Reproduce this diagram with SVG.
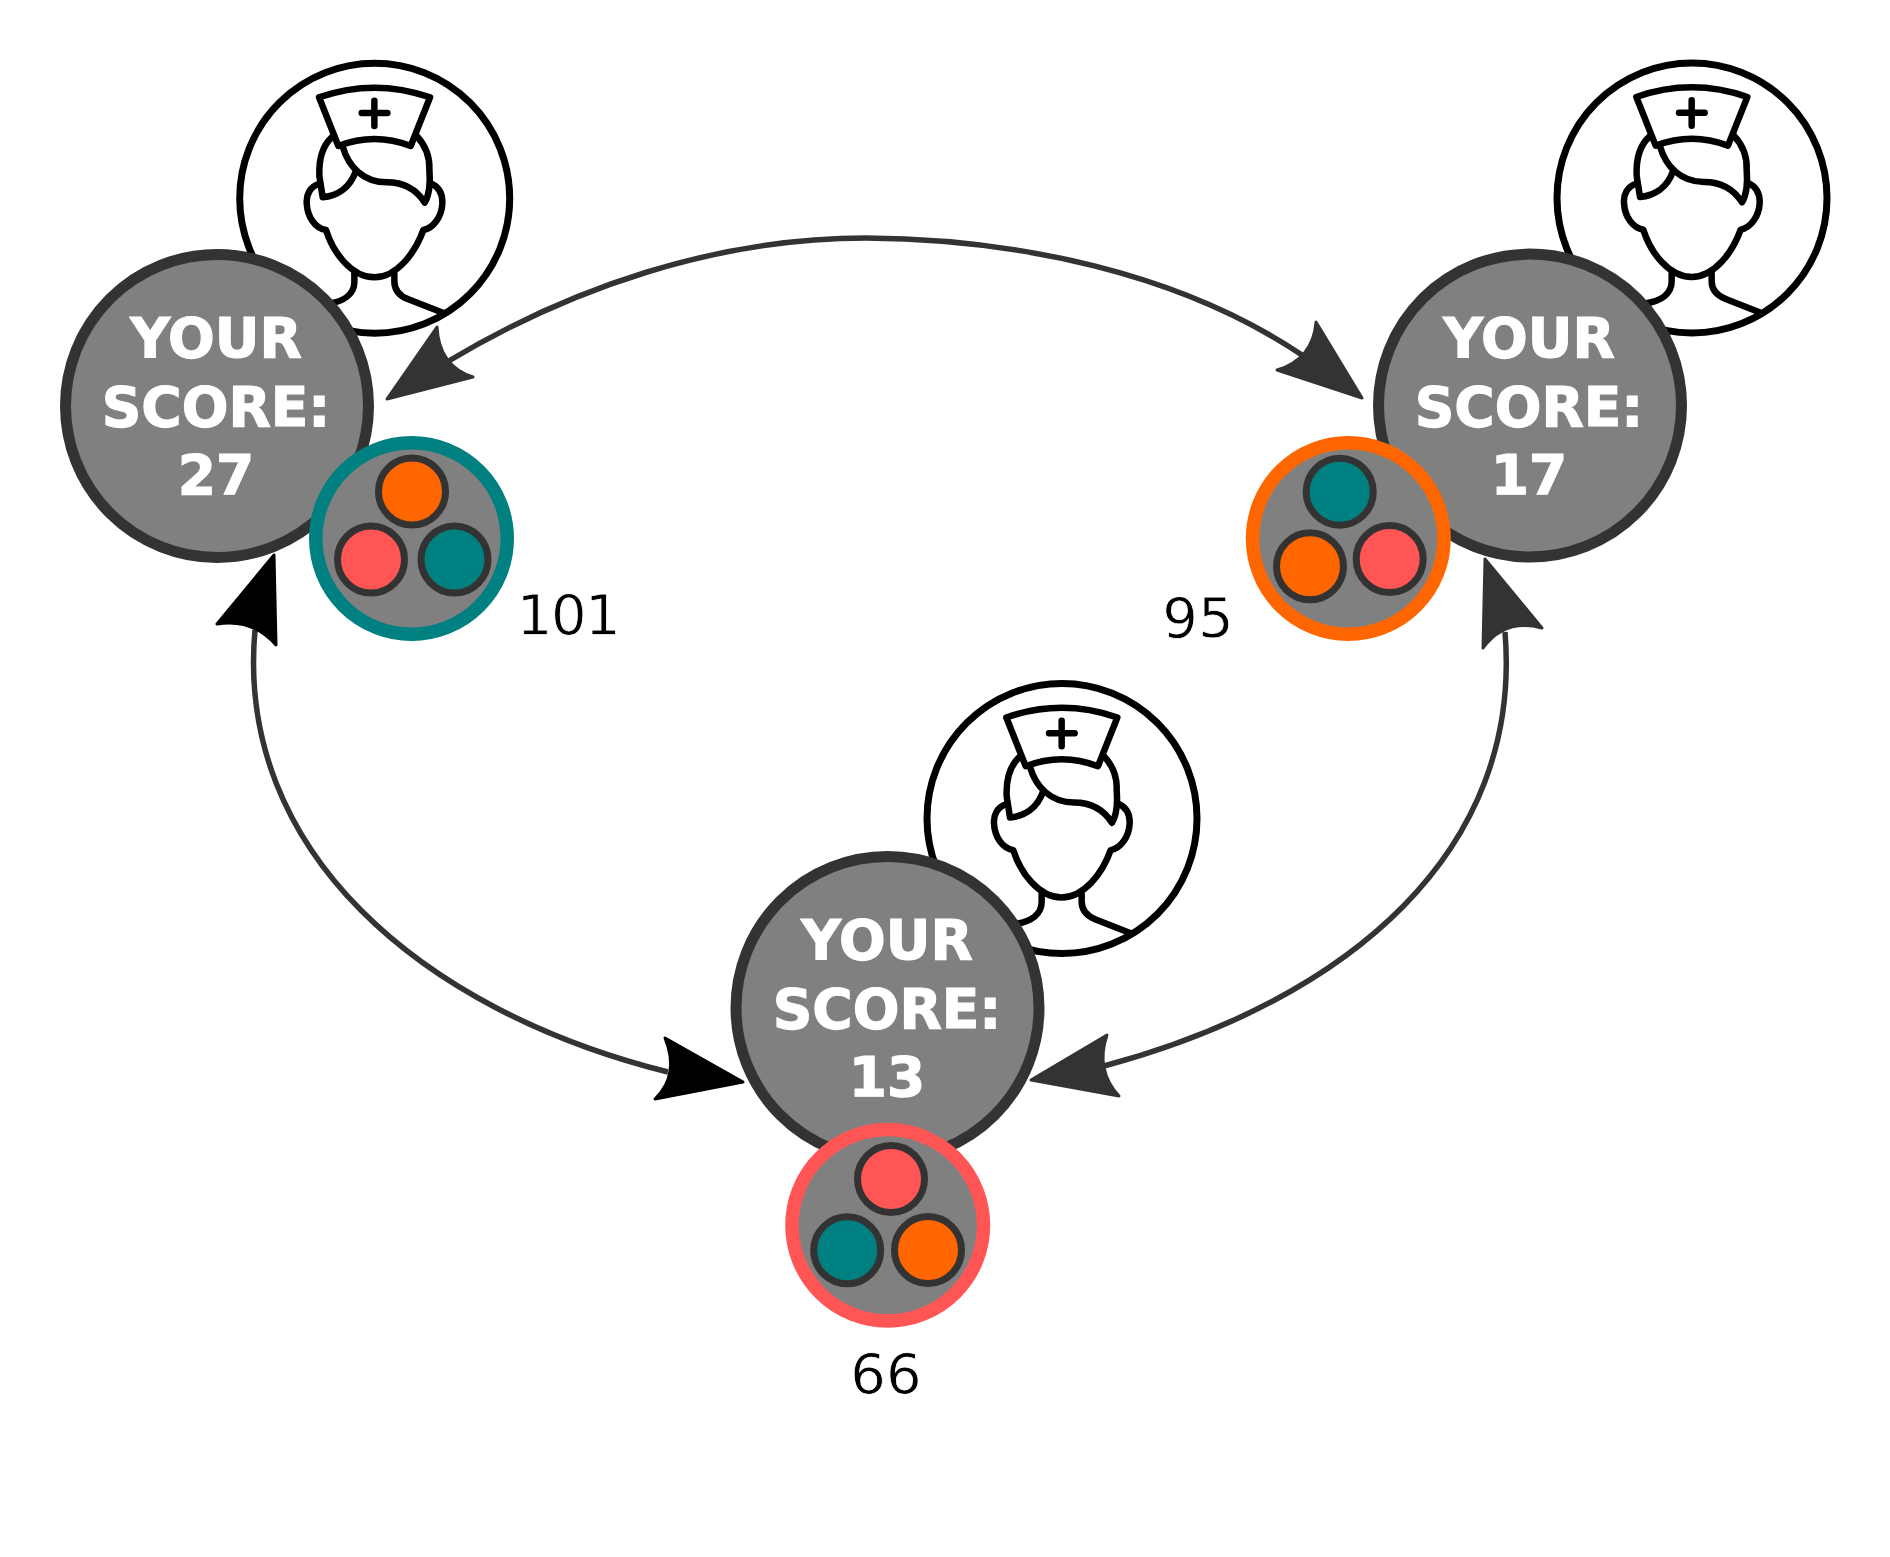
<svg xmlns="http://www.w3.org/2000/svg" width="1890" height="1557" viewBox="0 0 1890 1557">
<style>
.bg{fill:#fff}
.main{fill:#808080;stroke:#333;stroke-width:11}
.mini{fill:#808080;stroke-width:13.5}
.dot{stroke:#333;stroke-width:7}
.teal{fill:#008080}.orange{fill:#f60}.red{fill:#f55}
.score{font-family:"DejaVu Sans",sans-serif;font-weight:700;font-size:55px;fill:#fff;stroke:#fff;stroke-width:1.2;text-anchor:middle}
.num{font-family:"DejaVu Sans",sans-serif;font-size:56px;fill:#000;stroke:#fff;stroke-width:.8;text-anchor:middle}
.edge{fill:none;stroke:#333;stroke-width:5.5}
.hd{fill:#333;stroke:#333;stroke-width:3;stroke-linejoin:round}
.hb{fill:#000;stroke:#000;stroke-width:3;stroke-linejoin:round}
.ic{fill:none;stroke:#000;stroke-width:19.5;stroke-linecap:round;stroke-linejoin:round}
</style>
<defs>
<g id="nurse">
<circle r="135" fill="#fff" stroke="#000" stroke-width="7"/>
<g transform="scale(0.33333) translate(-464,-445)" class="ic">
<path d="M297,142 Q463,84 630,142 L572,288 Q463,246 355,288 Z"/>
<path d="M463,152 V228 M425,189 H502"/>
<path d="M335,262 C305,290 296,330 298,378 L308,442 C350,438 390,415 408,362"/>
<path d="M368,290 C385,350 430,397 500,397 C550,397 590,420 614,458 C625,440 632,410 628,360 C630,320 615,285 590,258"/>
<path d="M297,402 C270,410 258,435 260,460 C262,500 285,535 318,540 C340,610 395,682 463,682 C530,682 585,610 610,540 C640,535 665,500 667,460 C668,430 655,410 632,400"/>
<path d="M403,665 V695 C403,730 375,755 320,762"/>
<path d="M523,672 V695 C523,720 540,738 565,748 L672,790"/>
</g>
</g>
</defs>
<rect class="bg" width="1890" height="1557"/>
<g id="connectors">
<path class="edge" d="M447,362 C570,288 716,238 866,238 C1018,239 1180,273 1302,355"/>
<path class="edge" d="M255,630 C235,850 420,1010 668,1072"/>
<path class="edge" d="M1505,632 C1523,850 1350,1000 1104,1066"/>
<path class="hd" d="M387,399 L437,327 Q439,366 473,377 Z"/>
<path class="hd" d="M1362,398 L1316,322 Q1313,359 1277,370 Z"/>
<path class="hb" d="M274,555 L217,624 Q252,618 276,645 Z"/>
<path class="hb" d="M743,1082 L665,1038 Q680,1075 655,1099 Z"/>
<path class="hd" d="M1485,559 L1542,628 Q1505,618 1483,648 Z"/>
<path class="hd" d="M1031,1080 L1107,1035 Q1095,1070 1119,1096 Z"/>
</g>
<g id="node-left">
<use href="#nurse" x="374.7" y="198.3"/>
<circle class="main" cx="217" cy="406" r="151.5"/>
<text class="score" x="216" y="356.5">YOUR</text>
<text class="score" x="216" y="425.5">SCORE:</text>
<text class="score" x="216" y="493.5">27</text>
<circle class="mini" cx="411.5" cy="538.5" r="95.75" stroke="#008080"/>
<circle class="dot orange" cx="412" cy="491.5" r="33.5"/>
<circle class="dot red" cx="371" cy="559.5" r="33.5"/>
<circle class="dot teal" cx="454.5" cy="559.5" r="33.5"/>
<text class="num" x="568" y="634" letter-spacing="-1.5">101</text>
</g>
<g id="node-right">
<use href="#nurse" x="1692" y="198"/>
<circle class="main" cx="1530" cy="405.6" r="151.5"/>
<text class="score" x="1529" y="356.5">YOUR</text>
<text class="score" x="1529" y="425.5">SCORE:</text>
<text class="score" x="1529" y="493.5">17</text>
<circle class="mini" cx="1348.3" cy="538.5" r="95.75" stroke="#f60"/>
<circle class="dot teal" cx="1339.7" cy="491.7" r="33.5"/>
<circle class="dot orange" cx="1310" cy="566.3" r="33.5"/>
<circle class="dot red" cx="1389.7" cy="559" r="33.5"/>
<text class="num" x="1198" y="636.5">95</text>
</g>
<g id="node-bottom">
<use href="#nurse" x="1062" y="818.5"/>
<circle class="main" cx="887.5" cy="1008" r="151.5"/>
<text class="score" x="887" y="958.5">YOUR</text>
<text class="score" x="887" y="1027.5">SCORE:</text>
<text class="score" x="887" y="1095.5">13</text>
<circle class="mini" cx="887.7" cy="1225.2" r="95.75" stroke="#f55"/>
<circle class="dot red" cx="891" cy="1179" r="33.5"/>
<circle class="dot teal" cx="847.2" cy="1250.3" r="33.5"/>
<circle class="dot orange" cx="928" cy="1250" r="33.5"/>
<text class="num" x="886" y="1393">66</text>
</g>
</svg>
